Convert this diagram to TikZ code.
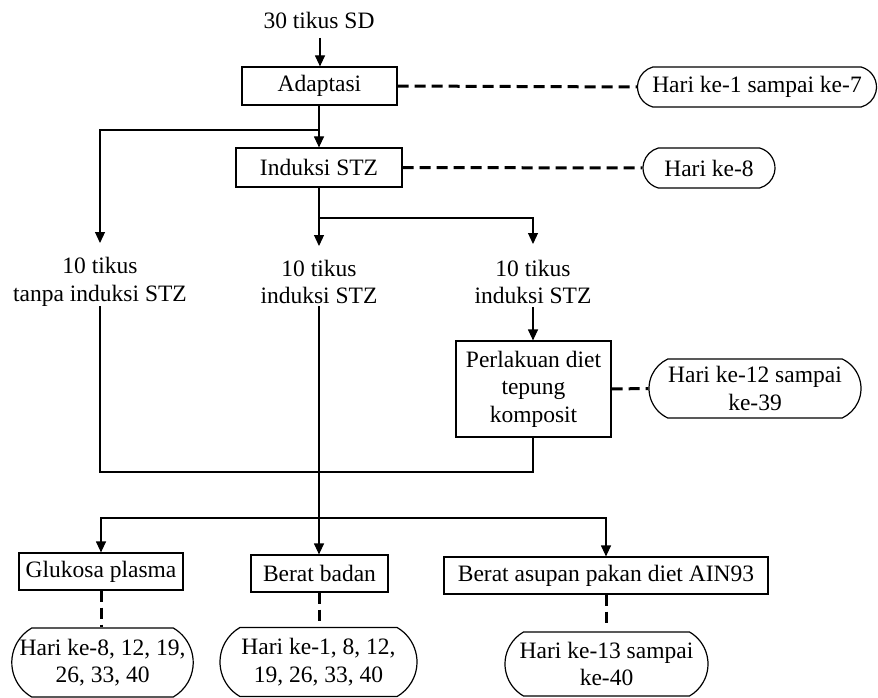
\documentclass[tikz,border=0pt]{standalone}
\usepackage{fontspec}
\setmainfont{Liberation Serif}
\usetikzlibrary{arrows.meta,shapes.misc,calc}
\begin{document}
\begin{tikzpicture}[x=1pt,y=-1pt,
  font=\fontsize{23.5pt}{27.5pt}\selectfont,
  line width=1.2pt,
  box/.style={draw, rectangle, inner sep=0pt, align=center},
  pill/.style={draw, rounded rectangle, rounded rectangle arc length=150, inner sep=0pt, align=center},
  arr/.style={-{Triangle[length=11pt,width=10pt]}},
  dashline/.style={line width=3pt, dash pattern=on 11pt off 6pt},
  lbl/.style={align=center, inner sep=0pt}]
\useasboundingbox (0,0) rectangle (878,698);

% top
\node[lbl] (t0) at (319,20) {30 tikus SD};
\coordinate (t0b) at (320,38);

\node[box, minimum width=155pt, minimum height=38pt] (adapt) at (319.5,86) {Adaptasi};
\node[pill, minimum width=239pt, minimum height=40pt] (h1) at (757,87) {Hari ke-1 sampai ke-7};

\node[box, minimum width=166pt, minimum height=39pt] (induksi) at (319,167.5) {Induksi STZ};
\node[pill, minimum width=132pt, minimum height=40pt] (h8) at (709,168) {Hari ke-8};

% groups
\node[lbl] (g1) at (100,282) {10 tikus\\tanpa induksi STZ};
\node[lbl] (g2) at (319,282) {10 tikus\\induksi STZ};
\node[lbl] (g3) at (533,282) {10 tikus\\induksi STZ};
\coordinate (g1in) at (100,243);
\coordinate (g2in) at (319,246);
\coordinate (g3in) at (533,244);
\coordinate (g1out) at (100,306);
\coordinate (g2out) at (319,306);
\coordinate (g3out) at (533,307);

\node[box, minimum width=155pt, minimum height=96pt] (perl) at (533.5,389) {Perlakuan diet\\tepung\\komposit};
\node[pill, minimum width=212pt, minimum height=59pt, rounded rectangle arc length=130] (h12) at (755,388.5) {Hari ke-12 sampai\\ke-39};

% measurements
\node[box, minimum width=164pt, minimum height=37pt] (gluk) at (101,571.5) {Glukosa plasma};
\node[box, minimum width=137pt, minimum height=37pt] (berat) at (319.5,573.5) {Berat badan};
\node[box, minimum width=324pt, minimum height=37pt] (asupan) at (606,575.5) {Berat asupan pakan diet AIN93};

\node[pill, minimum width=179pt, minimum height=69pt, rounded rectangle arc length=120] (hg) at (102.5,662.5) {Hari ke-8, 12, 19,\\26, 33, 40};
\node[pill, minimum width=197pt, minimum height=69pt, rounded rectangle arc length=120] (hb) at (318.5,662) {Hari ke-1, 8, 12,\\19, 26, 33, 40};
\node[pill, minimum width=203pt, minimum height=64pt, rounded rectangle arc length=120] (ha) at (606.5,664) {Hari ke-13 sampai\\ke-40};

% junction coordinates
\coordinate (j1) at (319,130);
\coordinate (j2) at (319,218);
\coordinate (j3) at (319,472);
\coordinate (j4) at (319,518);

% solid connectors
\draw[arr] (t0b) -- (adapt.north -| t0b);
\draw[arr] (adapt.south -| j1) -- (induksi.north -| j1);
\draw[arr] (j1) -| (g1in);
\draw[arr] (induksi.south -| j2) -- (g2in);
\draw[arr] (j2) -| (g3in);
\draw (g1out) |- (j3);
\draw[arr] (g2out) -- (berat.north -| g2out);
\draw[arr] (g3out) -- (perl.north -| g3out);
\draw (perl.south -| g3out) |- (j3);
\draw[arr] (j4) -| (gluk.north);
\draw[arr] (j4) -| (asupan.north);

% dashed connectors
\draw[dashline] (adapt.east) -- (h1.west);
\draw[dashline] (induksi.east) -- (h8.west);
\draw[dashline] (perl.east) -- (h12.west);
\draw[dashline] (gluk.south) -- (hg.north -| gluk.south);
\draw[dashline, shorten >=5pt] (berat.south) -- (hb.north -| berat.south);
\draw[dashline, shorten >=7pt] (asupan.south) -- (ha.north -| asupan.south);
\end{tikzpicture}
\end{document}
